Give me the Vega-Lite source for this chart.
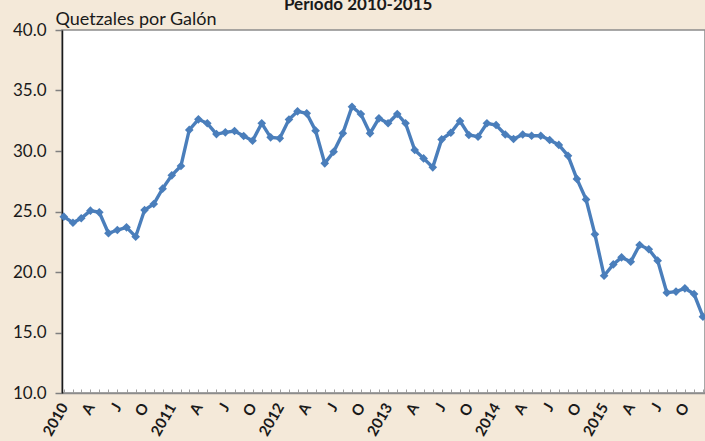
{
  "$schema": "https://vega.github.io/schema/vega-lite/v6.json",
  "width": 643,
  "height": 363,
  "autosize": {"type": "none"},
  "padding": {"left": 62, "top": 30, "right": 0, "bottom": 48},
  "background": "#F4E9D9",
  "view": {"fill": "white", "stroke": "#8c8c8c", "strokeWidth": 1.5},
  "title": {
    "text": "Periodo 2010-2015",
    "font": "Lato",
    "fontSize": 17,
    "fontWeight": "bold",
    "color": "#1a1a1a",
    "anchor": "start",
    "frame": "group",
    "dx": 222,
    "dy": 19,
    "baseline": "alphabetic",
    "offset": 2
  },
  "data": {
    "values": [
      {"mes": "2010-01", "precio": 24.57}, {"mes": "2010-02", "precio": 24.07}, {"mes": "2010-03", "precio": 24.44},
      {"mes": "2010-04", "precio": 25.07}, {"mes": "2010-05", "precio": 24.93}, {"mes": "2010-06", "precio": 23.2},
      {"mes": "2010-07", "precio": 23.47}, {"mes": "2010-08", "precio": 23.69}, {"mes": "2010-09", "precio": 22.92},
      {"mes": "2010-10", "precio": 25.12}, {"mes": "2010-11", "precio": 25.62}, {"mes": "2010-12", "precio": 26.89},
      {"mes": "2011-01", "precio": 27.99}, {"mes": "2011-02", "precio": 28.76}, {"mes": "2011-03", "precio": 31.74},
      {"mes": "2011-04", "precio": 32.62}, {"mes": "2011-05", "precio": 32.29}, {"mes": "2011-06", "precio": 31.4},
      {"mes": "2011-07", "precio": 31.54}, {"mes": "2011-08", "precio": 31.65}, {"mes": "2011-09", "precio": 31.24},
      {"mes": "2011-10", "precio": 30.85}, {"mes": "2011-11", "precio": 32.29}, {"mes": "2011-12", "precio": 31.13},
      {"mes": "2012-01", "precio": 31.05}, {"mes": "2012-02", "precio": 32.6}, {"mes": "2012-03", "precio": 33.28},
      {"mes": "2012-04", "precio": 33.11}, {"mes": "2012-05", "precio": 31.68}, {"mes": "2012-06", "precio": 28.98},
      {"mes": "2012-07", "precio": 29.94}, {"mes": "2012-08", "precio": 31.46}, {"mes": "2012-09", "precio": 33.66},
      {"mes": "2012-10", "precio": 33.06}, {"mes": "2012-11", "precio": 31.46}, {"mes": "2012-12", "precio": 32.7},
      {"mes": "2013-01", "precio": 32.29}, {"mes": "2013-02", "precio": 33.06}, {"mes": "2013-03", "precio": 32.29},
      {"mes": "2013-04", "precio": 30.08}, {"mes": "2013-05", "precio": 29.39}, {"mes": "2013-06", "precio": 28.65},
      {"mes": "2013-07", "precio": 30.96}, {"mes": "2013-08", "precio": 31.51}, {"mes": "2013-09", "precio": 32.48},
      {"mes": "2013-10", "precio": 31.32}, {"mes": "2013-11", "precio": 31.18}, {"mes": "2013-12", "precio": 32.29},
      {"mes": "2014-01", "precio": 32.15}, {"mes": "2014-02", "precio": 31.36}, {"mes": "2014-03", "precio": 30.99},
      {"mes": "2014-04", "precio": 31.36}, {"mes": "2014-05", "precio": 31.26}, {"mes": "2014-06", "precio": 31.26},
      {"mes": "2014-07", "precio": 30.91}, {"mes": "2014-08", "precio": 30.5}, {"mes": "2014-09", "precio": 29.61},
      {"mes": "2014-10", "precio": 27.69}, {"mes": "2014-11", "precio": 26.0}, {"mes": "2014-12", "precio": 23.11},
      {"mes": "2015-01", "precio": 19.69}, {"mes": "2015-02", "precio": 20.63}, {"mes": "2015-03", "precio": 21.21},
      {"mes": "2015-04", "precio": 20.85}, {"mes": "2015-05", "precio": 22.23}, {"mes": "2015-06", "precio": 21.88},
      {"mes": "2015-07", "precio": 20.94}, {"mes": "2015-08", "precio": 18.29}, {"mes": "2015-09", "precio": 18.38},
      {"mes": "2015-10", "precio": 18.65}, {"mes": "2015-11", "precio": 18.18}, {"mes": "2015-12", "precio": 16.31}
    ]
  },
  "encoding": {
    "x": {
      "field": "mes",
      "type": "temporal",
      "scale": {"type": "utc", "domain": [{"year": 2009, "month": 12, "date": 26, "utc": true}, {"year": 2015, "month": 12, "date": 8, "utc": true}]},
      "axis": {
        "title": null,
        "grid": false,
        "domainColor": "#8c8c8c",
        "domainWidth": 1.5,
        "tickColor": "#a0a0a0",
        "tickSize": -4,
        "tickCount": {"interval": "month", "step": 1},
        "labelOverlap": false,
        "labelFlush": false,
        "labelAngle": -60,
        "labelAlign": "right",
        "labelBaseline": "middle",
        "labelPadding": 15,
        "labelFont": "Lato",
        "labelFontSize": 15,
        "labelFontWeight": "bold",
        "labelColor": "#1a1a1a",
        "labelExpr": "utcmonth(datum.value) == 0 ? utcFormat(datum.value, '%Y') : utcmonth(datum.value) == 3 ? 'A' : utcmonth(datum.value) == 6 ? 'J' : utcmonth(datum.value) == 9 ? 'O' : ''"
      }
    },
    "y": {
      "field": "precio",
      "type": "quantitative",
      "scale": {"domain": [10, 40], "nice": false, "zero": false},
      "axis": {
        "values": [10, 15, 20, 25, 30, 35, 40],
        "format": ".1f",
        "grid": false,
        "domainColor": "#1a1a1a",
        "domainWidth": 1.5,
        "tickColor": "#808080",
        "tickSize": 7,
        "tickWidth": 1.5,
        "labelPadding": 9,
        "labelFont": "Lato",
        "labelFontSize": 17,
        "labelColor": "#1a1a1a",
        "title": "Quetzales por Galón",
        "titleFont": "Lato",
        "titleFontSize": 18,
        "titleFontWeight": "normal",
        "titleColor": "#1a1a1a",
        "titleAngle": 0,
        "titleAlign": "left",
        "titleBaseline": "alphabetic",
        "titleX": -7,
        "titleY": -6
      }
    }
  },
  "layer": [
    {"mark": {"type": "line", "color": "#4A7EBB", "strokeWidth": 3.4}},
    {"mark": {"type": "point", "shape": "diamond", "filled": true, "opacity": 1, "color": "#4A7EBB", "size": 75}}
  ]
}
